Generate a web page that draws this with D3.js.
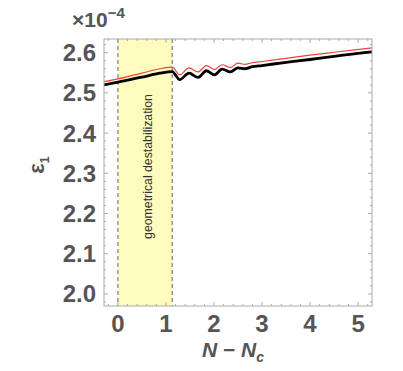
<!DOCTYPE html>
<html>
<head>
<meta charset="utf-8">
<script src="https://cdn.jsdelivr.net/npm/d3@7"></script>
<style>
  body { margin: 0; background: #fff; }
  svg { display: block; font-family: "Liberation Sans", Arial, sans-serif; }
</style>
</head>
<body>
<svg id="chart"></svg>
<script>
const width = 403,
  height = 371;

// N - Nc samples
const nVals = [-0.29, 0, 0.5, 0.87, 1.13, 1.285, 1.48, 1.67, 1.84, 2.01,
  2.17, 2.34, 2.5, 2.64, 2.8, 3.0, 3.5, 4, 4.5, 5.29];
// epsilon_1 in units of 1e-4
const blackVals = [2.520, 2.527, 2.539, 2.549, 2.553, 2.533, 2.549, 2.5385, 2.555, 2.545,
  2.559, 2.552, 2.562, 2.560, 2.565, 2.568, 2.576, 2.583, 2.591, 2.602];
const redVals = [2.528, 2.535, 2.549, 2.560, 2.564, 2.545, 2.562, 2.552, 2.568, 2.558,
  2.570, 2.563, 2.574, 2.571, 2.575, 2.578, 2.586, 2.594, 2.601, 2.612];

const band = [0, 1.13];
const bandLabel = "geometrical destabilization";
const xTicks = [0, 1, 2, 3, 4, 5];
const yTicks = [2.0, 2.1, 2.2, 2.3, 2.4, 2.5, 2.6];

const margin = { left: 104, right: 31, top: 39, bottom: 65 };
const plotW = width - margin.left - margin.right,
  plotH = height - margin.top - margin.bottom;

const x = d3.scaleLinear().domain([-0.29, 5.29]).range([0, plotW]);
const y = d3.scaleLinear().domain([1.97, 2.634]).range([plotH, 0]);

const svg = d3.select("#chart").attr("width", width).attr("height", height);
const g = svg.append("g").attr("transform", `translate(${margin.left},${margin.top})`);

g.append("clipPath").attr("id", "clip")
  .append("rect").attr("width", plotW).attr("height", plotH);

// shaded band
g.append("rect")
  .attr("x", x(band[0]))
  .attr("width", x(band[1]) - x(band[0]))
  .attr("y", 0)
  .attr("height", plotH)
  .style("fill", "#fdfbbd");

band.forEach(b => {
  g.append("line")
    .attr("x1", x(b)).attr("x2", x(b))
    .attr("y1", 0).attr("y2", plotH)
    .style("stroke", "#666")
    .style("stroke-width", 1)
    .style("stroke-dasharray", "4,3");
});

g.append("text")
  .attr("transform", `translate(${x((band[0] + band[1]) / 2) + 3},${plotH / 2 - 6}) rotate(-90)`)
  .attr("text-anchor", "middle")
  .attr("dominant-baseline", "central")
  .style("font-size", "12.3px")
  .style("fill", "#333")
  .text(bandLabel);

// frame ticks (inward, all four sides)
const frame = g.append("g").style("stroke", "#aaa").style("stroke-width", 1);
const xMinor = d3.range(-0.2, 5.3, 0.2);
const yMinor = d3.range(1.98, 2.63, 0.02);
const isMajor = (v, step) => Math.abs(v / step - Math.round(v / step)) < 1e-6;

xMinor.forEach(v => {
  const len = isMajor(v, 1) ? 4 : 2;
  frame.append("line").attr("x1", x(v)).attr("x2", x(v)).attr("y1", plotH).attr("y2", plotH - len);
  frame.append("line").attr("x1", x(v)).attr("x2", x(v)).attr("y1", 0).attr("y2", len);
});
yMinor.forEach(v => {
  const len = isMajor(v, 0.1) ? 4 : 2;
  frame.append("line").attr("y1", y(v)).attr("y2", y(v)).attr("x1", 0).attr("x2", len);
  frame.append("line").attr("y1", y(v)).attr("y2", y(v)).attr("x1", plotW).attr("x2", plotW - len);
});

// lines
const line = d3.line()
  .x(d => x(d[0]))
  .y(d => y(d[1]))
  .curve(d3.curveMonotoneX);

const plot = g.append("g").attr("clip-path", "url(#clip)");
plot.append("path")
  .datum(nVals.map((n, i) => [n, blackVals[i]]))
  .attr("d", line)
  .style("fill", "none")
  .style("stroke", "#000")
  .style("stroke-width", 2.8);

plot.append("path")
  .datum(nVals.map((n, i) => [n, redVals[i]]))
  .attr("d", line)
  .style("fill", "none")
  .style("stroke", "#e8453c")
  .style("stroke-width", 1.2);

g.append("rect")
  .attr("width", plotW).attr("height", plotH)
  .style("fill", "none")
  .style("stroke", "#aaa")
  .style("stroke-width", 1);

// tick labels
g.selectAll(".xlab")
  .data(xTicks)
  .enter()
  .append("text")
  .attr("x", d => x(d))
  .attr("y", plotH + 17)
  .attr("text-anchor", "middle")
  .attr("dominant-baseline", "central")
  .style("font-size", "24px")
  .style("font-weight", "bold")
  .style("fill", "#555")
  .text(d => d);

g.selectAll(".ylab")
  .data(yTicks)
  .enter()
  .append("text")
  .attr("x", -8)
  .attr("y", d => y(d))
  .attr("text-anchor", "end")
  .attr("dominant-baseline", "central")
  .style("font-size", "24px")
  .style("font-weight", "bold")
  .style("fill", "#555")
  .text(d => d3.format(".1f")(d));

// axis titles
const xTitle = svg.append("text")
  .attr("x", 233)
  .attr("y", 357)
  .attr("text-anchor", "middle")
  .style("font-size", "21px")
  .style("font-weight", "bold")
  .style("font-style", "italic")
  .style("fill", "#555");
xTitle.append("tspan").text("N");
xTitle.append("tspan").style("font-style", "normal").text(" \u2212 ");
xTitle.append("tspan").text("N");
xTitle.append("tspan").attr("dy", 5).style("font-size", "14px").text("c");

const yTitle = svg.append("text")
  .attr("transform", "translate(44,165) rotate(-90)")
  .attr("text-anchor", "middle")
  .style("font-size", "22px")
  .style("font-weight", "bold")
  .style("fill", "#555");
yTitle.append("tspan").text("\u03b5");
yTitle.append("tspan").attr("dy", 5).style("font-size", "13px").text("1");

const scaleLabel = svg.append("text")
  .attr("x", 72)
  .attr("y", 27)
  .style("font-size", "21px")
  .style("font-weight", "bold")
  .style("fill", "#555");
scaleLabel.append("tspan").text("\u00d710");
scaleLabel.append("tspan").attr("dy", -9).style("font-size", "15px").text("\u22124");
</script>
</body>
</html>
